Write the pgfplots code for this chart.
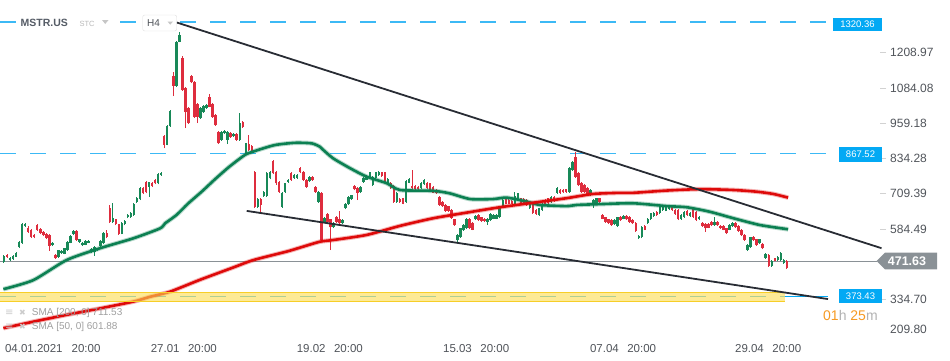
\documentclass[border=0pt]{standalone}
\usepackage{pgfplots}
\usepackage{pgfplotstable}
\pgfplotsset{compat=1.18}
\usepackage{fontspec}
\setmainfont{Liberation Sans}
\newfontfamily\djv{DejaVu Sans}
\definecolor{cgreen}{RGB}{24,137,88}
\definecolor{cred}{RGB}{222,45,62}
\definecolor{smagreen}{RGB}{12,128,82}
\definecolor{smared}{RGB}{222,10,10}
\definecolor{trend}{RGB}{40,44,52}
\definecolor{lvlblue}{RGB}{3,169,244}
\definecolor{dashblue}{RGB}{60,185,245}
\definecolor{tickgray}{RGB}{80,84,90}
\definecolor{pricegray}{RGB}{138,145,150}
\definecolor{bandfill}{RGB}{252,220,80}
\definecolor{bandline}{RGB}{247,206,40}
\definecolor{cdorange}{RGB}{246,154,35}
\definecolor{titlegray}{RGB}{85,92,102}

\pgfplotstableread{
i o h l c
0 469 493 466 490
1 493 496 484 486
2 475 486 472 483
3 478 492 476 489
4 487 504 485 501
5 521 541 517 538
6 536 605 533 602
7 595 606 592 602
8 589 594 572 575
9 581 585 553 557
10 563 566 552 556
11 599 603 578 581
12 584 588 566 570
13 575 578 559 563
14 567 570 549 553
15 562 566 508 525
16 528 538 524 535
17 493 497 479 483
18 486 512 483 509
19 500 510 497 507
20 498 519 495 516
21 510 543 507 540
22 537 563 534 560
23 567 581 563 577
24 577 581 542 546
25 540 551 537 548
26 527 540 524 537
27 530 545 527 542
28 537 545 534 542
29 504 518 501 515
30 504 524 490 521
31 510 518 507 515
32 524 545 521 542
33 536 574 533 571
34 571 583 552 555
35 660 669 606 610
36 610 676 607 623
37 619 622 598 602
38 601 604 565 569
39 569 610 566 607
40 601 616 598 613
41 626 637 623 634
42 628 645 625 642
43 634 676 631 673
44 680 697 677 694
45 690 732 687 729
46 729 732 708 711
47 753 756 711 715
48 734 753 699 750
49 748 751 733 737
50 758 761 743 746
51 746 783 743 780
52 776 786 773 782
53 914 917 870 884
54 884 953 881 950
55 949 1005 946 1002
56 1126 1141 1055 1092
57 1092 1250 1089 1246
58 1248 1282 1245 1271
59 1190 1196 1074 1077
60 1084 1087 942 999
61 1013 1016 956 960
62 1127 1130 1100 1104
63 1106 1109 978 982
64 1027 1030 960 982
65 978 1016 975 1013
66 999 1023 996 1020
67 1014 1027 1011 1024
68 1052 1062 1015 1018
69 1027 1030 978 982
70 988 991 950 953
71 929 932 885 888
72 900 932 897 929
73 924 934 921 931
74 900 932 885 929
75 924 927 908 911
76 914 924 911 921
77 921 924 897 900
78 900 995 897 961
79 963 966 944 947
80 852 891 849 888
81 885 918 860 864
82 879 882 857 861
83 787 790 660 663
84 663 694 660 691
85 691 694 641 670
86 702 720 699 717
87 702 787 699 784
88 764 790 761 787
89 825 828 779 782
90 787 790 742 746
91 752 755 713 717
92 663 717 660 714
93 717 749 713 746
94 752 761 749 758
95 782 785 755 758
96 765 779 762 776
97 766 778 763 775
98 800 803 783 786
99 787 790 755 758
100 758 761 731 734
101 754 773 751 770
102 770 773 755 758
103 734 737 713 717
104 681 720 678 717
105 713 716 543 546
106 610 626 607 623
107 638 641 607 610
108 619 622 510 591
109 591 610 588 607
110 628 631 606 610
111 619 649 601 605
112 605 620 601 617
113 658 678 654 675
114 673 700 670 697
115 691 707 688 704
116 737 740 722 725
117 731 734 687 713
118 715 737 712 734
119 752 769 749 766
120 760 776 757 773
121 768 788 765 785
122 740 773 737 770
123 764 788 761 785
124 776 790 773 787
125 785 788 770 773
126 785 788 749 752
127 749 764 746 761
128 749 752 728 731
129 737 740 678 681
130 681 716 678 713
131 690 693 678 681
132 693 696 672 675
133 681 757 678 754
134 749 764 746 761
135 737 793 726 729
136 737 740 722 725
137 734 737 722 725
138 729 752 726 749
139 744 761 741 758
140 749 752 726 729
141 746 749 720 723
142 734 737 711 714
143 723 726 708 711
144 699 702 667 670
145 681 684 663 666
146 670 673 645 648
147 665 668 645 648
148 652 655 620 623
149 619 622 596 599
150 546 566 536 563
151 557 590 554 587
152 581 602 578 599
153 587 625 584 622
154 622 625 584 587
155 605 608 580 583
156 619 633 616 630
157 634 637 613 616
158 626 629 611 614
159 622 625 611 614
160 610 625 600 622
161 616 641 613 638
162 622 637 619 634
163 622 637 619 634
164 626 667 623 664
165 664 691 661 688
166 693 696 672 675
167 688 691 672 675
168 685 688 672 675
169 675 717 672 701
170 688 714 685 711
171 693 696 672 675
172 690 693 672 675
173 688 691 667 670
174 658 678 655 675
175 673 676 639 642
176 652 655 635 638
177 634 661 631 658
178 652 678 649 675
179 688 691 672 675
180 693 696 675 678
181 681 700 678 697
182 699 702 682 685
183 713 732 710 729
184 723 726 710 713
185 723 726 712 715
186 725 728 714 717
187 717 803 714 800
188 793 826 790 823
189 841 858 767 770
190 782 785 737 740
191 749 752 714 717
192 740 743 714 717
193 729 732 702 705
194 705 726 702 723
195 675 691 660 688
196 678 696 675 693
197 693 696 678 681
198 634 637 619 622
199 626 629 607 610
200 619 622 604 607
201 616 619 596 599
202 602 619 599 616
203 595 629 592 626
204 628 631 613 616
205 622 633 619 630
206 630 633 616 619
207 628 631 607 610
208 616 619 602 605
209 605 608 576 579
210 552 563 549 560
211 555 594 552 591
212 595 598 580 583
213 607 624 604 621
214 619 643 616 640
215 630 645 627 642
216 646 649 631 634
217 640 665 637 662
218 652 669 649 666
219 650 667 647 664
220 654 667 651 664
221 664 667 649 652
222 652 655 635 638
223 652 655 616 619
224 620 637 617 634
225 628 649 625 646
226 649 652 631 634
227 630 645 627 642
228 654 657 625 628
229 646 649 613 616
230 619 631 616 628
231 605 608 592 595
232 602 605 576 587
233 602 605 587 590
234 610 613 595 598
235 599 628 596 610
236 610 613 595 598
237 595 598 584 587
238 595 598 580 583
239 587 590 567 570
240 583 602 580 599
241 595 610 592 607
242 605 608 588 591
243 595 598 576 579
244 581 584 560 563
245 563 566 543 546
246 510 531 507 528
247 520 558 517 555
248 557 560 543 546
249 548 551 525 528
250 534 551 531 548
251 531 534 513 516
252 483 499 480 496
253 493 496 451 454
254 454 476 451 473
255 481 484 470 473
256 475 488 472 485
257 475 504 472 501
258 465 478 462 475
259 473 476 443 446
}\candles

\begin{document}
\begin{tikzpicture}
\useasboundingbox (0,-25pt) rectangle (950pt,335pt);
\begin{axis}[
  at={(0,0)}, anchor=south west,
  scale only axis, width=880pt, height=335pt,
  xmin=-1.32, xmax=289.8, ymin=209.8, ymax=1395.4,
  axis line style={draw=none},
  clip=false,
  xtick={0.3,48.5,96.8,145.2,193.8,241.8},
  xticklabels={04.01.2021\hspace{9pt}20:00,27.01\hspace{8.5pt}20:00,19.02\hspace{8.5pt}20:00,15.03\hspace{8.5pt}20:00,07.04\hspace{8.5pt}20:00,29.04\hspace{8.5pt}20:00},
  xtick style={draw=none},
  xticklabel style={anchor=north west, inner sep=0pt, yshift=-3pt, font=\fontsize{11.5}{12}\selectfont, text=tickgray},
  ytick={1208.97,1084.08,959.18,834.28,709.39,584.49,334.70},
  yticklabels={1208.97,1084.08,959.18,834.28,709.39,584.49,334.70},
  yticklabel pos=right, ytick pos=right,
  tick align=outside, major tick length=6pt,
  ytick style={draw=gray!35, line width=0.8pt},
  yticklabel style={anchor=west, inner sep=0pt, xshift=4pt, font=\fontsize{12}{13}\selectfont, text=tickgray},
]
% level lines
\addplot[dashblue, line width=1.4pt, dash pattern=on 16pt off 14pt, forget plot] coordinates {(-1.32,1318) (274.2,1318)};
\addplot[dashblue, line width=1.4pt, dash pattern=on 16pt off 14pt, forget plot] coordinates {(-1.32,853) (275.9,853)};
\addplot[dashblue, line width=1.4pt, dash pattern=on 16pt off 14pt, forget plot] coordinates {(-1.32,345.4) (258.3,345.4)};
\addplot[lvlblue, line width=1pt, forget plot] coordinates {(258.3,345.4) (272.6,345.4)};
\addplot[pricegray, line width=0.9pt, forget plot] coordinates {(-1.32,471.7) (288.8,471.7)};
% candles: wicks and bodies
\addplot[draw=none, mark=none, forget plot,
  restrict expr to domain={\thisrow{c}-\thisrow{o}}{0:100000},
  error bars/.cd, y dir=plus, y explicit, error mark=none,
  error bar style={line width=1pt, draw=cgreen}]
  table[x=i, y=l, y error plus expr=\thisrow{h}-\thisrow{l}]{\candles};
\addplot[draw=none, mark=none, forget plot,
  restrict expr to domain={\thisrow{c}-\thisrow{o}}{0:100000},
  error bars/.cd, y dir=plus, y explicit, error mark=none,
  error bar style={line width=2.5pt, draw=cgreen}]
  table[x=i, y=o, y error plus expr=\thisrow{c}-\thisrow{o}]{\candles};
\addplot[draw=none, mark=none, forget plot,
  restrict expr to domain={\thisrow{o}-\thisrow{c}}{0.5:100000},
  error bars/.cd, y dir=plus, y explicit, error mark=none,
  error bar style={line width=1pt, draw=cred}]
  table[x=i, y=l, y error plus expr=\thisrow{h}-\thisrow{l}]{\candles};
\addplot[draw=none, mark=none, forget plot,
  restrict expr to domain={\thisrow{o}-\thisrow{c}}{0.5:100000},
  error bars/.cd, y dir=plus, y explicit, error mark=none,
  error bar style={line width=2.5pt, draw=cred}]
  table[x=i, y=c, y error plus expr=\thisrow{o}-\thisrow{c}]{\candles};
% SMA 50
\addplot[smagreen, opacity=0.3, line width=4.6pt, smooth, tension=0.4, forget plot] coordinates {(-0.2,372) (9.7,404) (20.7,475) (31.8,517) (42.8,552) (51.6,587) (53.3,605) (57,634) (61,676) (65.5,718) (69.8,761) (74.5,805) (79.7,847) (83,861) (89.6,882) (96.3,890) (101.8,888) (104.5,876) (105.6,865) (108.9,835) (114.5,800) (120,770) (126.6,747) (131,723) (142,720) (147.5,711) (154.2,691) (161.9,691) (166.3,696) (172.9,682) (177.3,670) (186.1,666) (189.4,670) (197.2,673) (208.1,676) (219.2,666) (225.8,662) (233.5,646) (241.3,623) (250.1,599) (259.4,584)};
\addplot[smagreen, line width=2.6pt, smooth, tension=0.4, forget plot] coordinates {(-0.2,372) (9.7,404) (20.7,475) (31.8,517) (42.8,552) (51.6,587) (53.3,605) (57,634) (61,676) (65.5,718) (69.8,761) (74.5,805) (79.7,847) (83,861) (89.6,882) (96.3,890) (101.8,888) (104.5,876) (105.6,865) (108.9,835) (114.5,800) (120,770) (126.6,747) (131,723) (142,720) (147.5,711) (154.2,691) (161.9,691) (166.3,696) (172.9,682) (177.3,670) (186.1,666) (189.4,670) (197.2,673) (208.1,676) (219.2,666) (225.8,662) (233.5,646) (241.3,623) (250.1,599) (259.4,584)};
% SMA 200
\addplot[smared, opacity=0.3, line width=4.6pt, smooth, tension=0.4, forget plot] coordinates {(-0.2,234) (9.7,257) (20.7,281) (31.8,304) (42.8,328) (48.3,345) (54.9,363) (64.8,405) (75.9,449) (82.5,475) (93.5,505) (97.9,519) (104.5,540) (108.9,546) (120,564) (131,596) (142,623) (153.1,643) (164.1,662) (175.1,678) (186.1,694) (194.9,709) (203.8,713) (208.2,713) (219.2,721) (230.2,726) (241.3,723) (249,717) (254.5,709) (259.4,696)};
\addplot[smared, line width=2.6pt, smooth, tension=0.4, forget plot] coordinates {(-0.2,234) (9.7,257) (20.7,281) (31.8,304) (42.8,328) (48.3,345) (54.9,363) (64.8,405) (75.9,449) (82.5,475) (93.5,505) (97.9,519) (104.5,540) (108.9,546) (120,564) (131,596) (142,623) (153.1,643) (164.1,662) (175.1,678) (186.1,694) (194.9,709) (203.8,713) (208.2,713) (219.2,721) (230.2,726) (241.3,723) (249,717) (254.5,709) (259.4,696)};
% support band
\fill[bandfill, opacity=0.6] (axis cs:-1.32,327.7) rectangle (axis cs:258.3,360.9);
\addplot[bandline, line width=0.9pt, forget plot] coordinates {(-1.32,360.9) (258.3,360.9)};
\addplot[bandline, line width=0.9pt, forget plot] coordinates {(-1.32,327.7) (258.3,327.7)};
% trend lines
\addplot[trend, line width=1.8pt, forget plot] coordinates {(57.1,1316) (290.3,517)};
\addplot[trend, line width=1.8pt, forget plot] coordinates {(80.3,649) (272.6,337)};
\end{axis}
% header
\fill[white] (17pt,304pt) rectangle (118pt,321pt);
\node[anchor=west, inner sep=0pt, text=titlegray, font=\bfseries\fontsize{10.5}{11}\selectfont] at (20.5pt,312pt) {MSTR.US};
\node[anchor=west, inner sep=0pt, text=gray!55, font=\fontsize{7.5}{8}\selectfont] at (79.3pt,311.5pt) {STC};
\fill[gray!45] (102pt,315pt) -- (108.5pt,315pt) -- (105.2pt,311pt) -- cycle;
\draw[gray!25, fill=white, rounded corners=2pt] (142.7pt,304pt) rectangle (176.7pt,320pt);
\node[anchor=west, inner sep=0pt, text=tickgray, font=\fontsize{10}{11}\selectfont] at (147pt,312pt) {H4};
\fill[gray!45] (167.5pt,313.5pt) -- (173pt,313.5pt) -- (170.2pt,310.3pt) -- cycle;
% level tags
\node[fill=lvlblue, text=white, inner sep=0pt, minimum width=48.4pt, minimum height=12.5pt, font=\fontsize{9.5}{10}\selectfont] at (857.5pt,310.5pt) {1320.36};
\node[fill=lvlblue, text=white, inner sep=0pt, minimum width=42.4pt, minimum height=15pt, font=\fontsize{9.5}{10}\selectfont] at (860.5pt,180.8pt) {867.52};
\node[fill=lvlblue, text=white, inner sep=0pt, minimum width=42.4pt, minimum height=14pt, font=\fontsize{9.5}{10}\selectfont] at (860.5pt,38.7pt) {373.43};
% price tag
\fill[pricegray] (876.7pt,74pt) -- (885pt,82.3pt) -- (937pt,82.3pt) -- (937pt,65.7pt) -- (885pt,65.7pt) -- cycle;
\node[text=white, inner sep=0pt, font=\bfseries\fontsize{12.5}{13}\selectfont] at (907pt,74pt) {471.63};
% bottom y label
\node[anchor=west, inner sep=0pt, text=tickgray, font=\fontsize{12}{13}\selectfont] at (890pt,5.7pt) {209.80};
% countdown
\node[anchor=west, inner sep=0pt, font=\fontsize{14}{14}\selectfont] at (823pt,20pt) {\textcolor{cdorange}{01}\textcolor{gray!60}{h} \textcolor{cdorange}{25}\textcolor{gray!60}{m}};
% legend
\node[anchor=west, inner sep=0pt, text=gray!40, font=\djv\fontsize{10}{10}\selectfont] at (5pt,22pt) {≡};
\node[anchor=west, inner sep=0pt, text=gray!40, font=\djv\fontsize{8}{8}\selectfont] at (19pt,22pt) {✖};
\node[anchor=west, inner sep=0pt, text=gray!40, font=\djv\fontsize{10}{10}\selectfont] at (5pt,8pt) {≡};
\node[anchor=west, inner sep=0pt, text=gray!40, font=\djv\fontsize{8}{8}\selectfont] at (19pt,8pt) {✖};
\node[anchor=west, inner sep=0pt, text=gray!75, font=\fontsize{10}{11}\selectfont] at (31.7pt,22pt) {SMA [200, 0] 711.53};
\node[anchor=west, inner sep=0pt, text=gray!75, font=\fontsize{10}{11}\selectfont] at (31.7pt,8pt) {SMA [50, 0] 601.88};
\end{tikzpicture}
\end{document}
